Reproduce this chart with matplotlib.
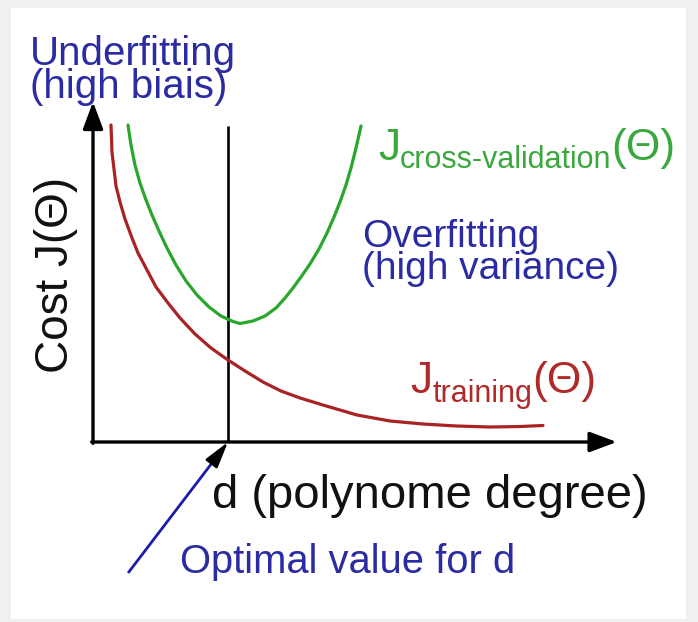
import matplotlib
matplotlib.use("Agg")
import matplotlib.pyplot as plt
from matplotlib.patches import Rectangle
from matplotlib.transforms import Affine2D

W, H = 698, 622
FONT = ["Liberation Sans", "DejaVu Sans"]

# Training cost versus polynomial degree d
train_d = [0.400, 0.422, 0.511, 0.600, 0.711, 0.867, 1.000, 1.200, 1.400, 1.667,
           1.933, 2.267, 2.622, 3.000, 3.378, 3.778, 4.178, 4.600, 5.111, 5.489,
           5.867, 6.600, 7.333, 8.067, 8.822, 9.489, 10.000]
train_cost = [7.044, 6.444, 5.689, 5.333, 4.956, 4.533, 4.200, 3.822, 3.444, 3.089,
              2.756, 2.400, 2.089, 1.822, 1.578, 1.333, 1.133, 0.978, 0.822, 0.711,
              0.600, 0.467, 0.400, 0.356, 0.333, 0.344, 0.367]

# Cross-validation cost versus polynomial degree d
cv_d = [0.778, 0.844, 0.933, 1.044, 1.178, 1.311, 1.467, 1.644, 1.844, 2.067,
        2.311, 2.578, 2.844, 3.111, 3.267, 3.556, 3.822, 4.067, 4.267, 4.444,
        4.622, 4.822, 5.022, 5.200, 5.356, 5.489, 5.622, 5.733, 5.844, 5.956]
cv_cost = [7.044, 6.600, 6.156, 5.756, 5.378, 5.044, 4.689, 4.311, 3.933, 3.578,
           3.267, 3.000, 2.800, 2.678, 2.633, 2.689, 2.800, 2.978, 3.200, 3.422,
           3.667, 3.956, 4.289, 4.644, 5.000, 5.333, 5.711, 6.089, 6.533, 7.022]

d_opt = 3.0

# Layout: where the origin sits in the canvas and pixels per data unit
ORIGIN_X, ORIGIN_Y, UNIT = 93, 442, 45
X_AXIS_END = 11.64
Y_AXIS_END = 7.56
V_LINE_TOP = 7.02
POINTER_TAIL = (0.78, -2.91)

C_BLUE = "#2b2ba3"
C_GREEN = "#2aa62e"
C_GREEN_TXT = "#3aa83f"
C_RED = "#a82424"
C_RED_TXT = "#b02a2a"

fig = plt.figure(figsize=(W / 100, H / 100), dpi=100)
fig.patch.set_facecolor("#f0f0f0")
fig.patches.append(Rectangle((11 / W, 3 / H), (686 - 11) / W, (614 - 3) / H,
                             transform=fig.transFigure, facecolor="white",
                             edgecolor="none", zorder=-10))

ax = fig.add_axes([0, 0, 1, 1])
ax.set_zorder(1)
ax.set_xlim(-ORIGIN_X / UNIT, (W - ORIGIN_X) / UNIT)
ax.set_ylim((ORIGIN_Y - H) / UNIT, ORIGIN_Y / UNIT)
ax.axis("off")
ax.patch.set_visible(False)

axis_arrow = dict(arrowstyle="-|>,head_length=0.75,head_width=0.28",
                  mutation_scale=22, lw=2.4, color="black",
                  shrinkA=0, shrinkB=0)
ax.annotate("", xy=(0, Y_AXIS_END), xytext=(0, -0.03), arrowprops=axis_arrow)
ax.annotate("", xy=(X_AXIS_END, 0), xytext=(-0.03, 0), arrowprops=axis_arrow)

# optimal degree marker
ax.plot([d_opt, d_opt], [0, V_LINE_TOP], color="black", lw=1.9,
        solid_capstyle="butt")

# cost curves
ax.plot(train_d, train_cost, color=C_RED, lw=2.3,
        solid_joinstyle="round", solid_capstyle="round")
ax.plot(cv_d, cv_cost, color=C_GREEN, lw=2.3,
        solid_joinstyle="round", solid_capstyle="round")

# pointer to the optimal value of d
tx, ty = POINTER_TAIL
frac = 0.84
mx, my = tx + frac * (d_opt - tx), ty + frac * (0 - ty)
ax.plot([tx, mx], [ty, my], color="#1c1caa", lw=2.0, solid_capstyle="butt")
ax.annotate("", xy=(d_opt, 0), xytext=(mx, my),
            arrowprops=dict(arrowstyle="-|>,head_length=0.8,head_width=0.22",
                            mutation_scale=20, lw=1.8, color="black",
                            shrinkA=0, shrinkB=0))

# text placed in canvas pixels measured from the top-left corner
to_px = Affine2D().scale(1, -1).translate(0, H)
renderer = fig.canvas.get_renderer()


def put(x, y, s, size, color, **kw):
    kw.setdefault("va", "baseline")
    return fig.text(x, y, s, transform=to_px, fontsize=size, color=color,
                    family=FONT, ha="left", zorder=2, **kw)


def run(x, y, pieces):
    for s, size, dy, color in pieces:
        t = put(x, y + dy, s, size, color)
        x = t.get_window_extent(renderer).x1


put(30, 98, "Underfitting\n(high biais)", 29, C_BLUE, linespacing=0.83)

run(378, 160, [("J", 32, 0, C_GREEN_TXT),
               ("cross-validation", 22, 8, C_GREEN_TXT),
               ("(Θ)", 32, 0, C_GREEN_TXT)])

put(362, 279, "Overfitting\n(high variance)", 28, C_BLUE, linespacing=0.84)

run(410, 393, [("J", 32, 0, C_RED_TXT),
               ("training", 22, 9, C_RED_TXT),
               ("(Θ)", 32, 0, C_RED_TXT)])

fig.text(68, 275, "Cost J(Θ)", transform=to_px, fontsize=33, color="#111111",
         family=FONT, rotation=90, va="baseline", ha="center",
         rotation_mode="anchor", zorder=2)

put(212, 508, "d (polynome degree)", 34, "#111111")
put(180, 573, "Optimal value for d", 28.7, C_BLUE)

fig.savefig("out.png", dpi=100, facecolor=fig.get_facecolor())
